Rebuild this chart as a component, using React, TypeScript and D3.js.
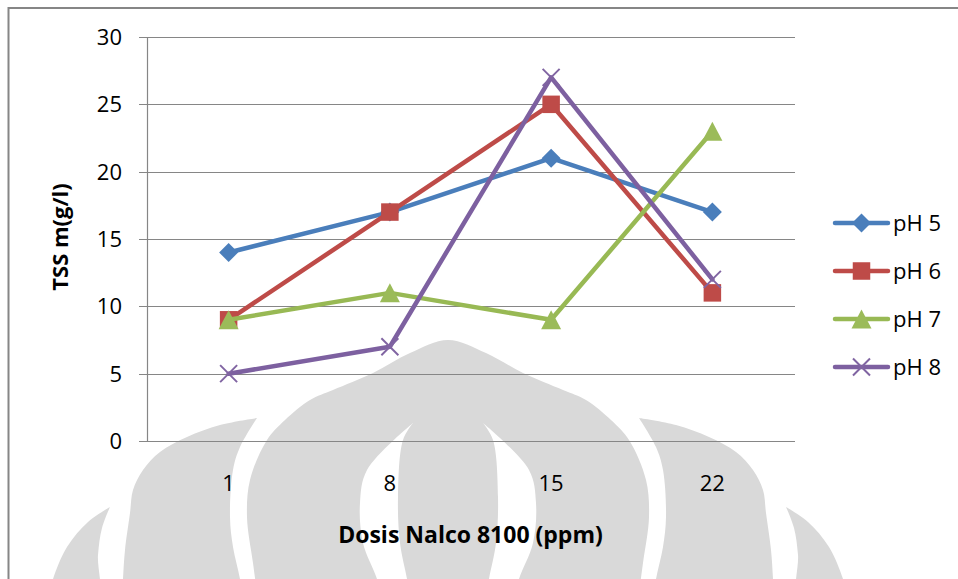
import React from 'react';
import * as d3 from 'd3';

// TSS readings per Nalco 8100 dose, one array per pH level
const doses = ['1', '8', '15', '22'];
const ph5 = [14, 17, 21, 17];
const ph6 = [9, 17, 25, 11];
const ph7 = [9, 11, 9, 23];
const ph8 = [5, 7, 27, 12];
const seriesNames = ['pH 5', 'pH 6', 'pH 7', 'pH 8'];
const yTicks = [0, 5, 10, 15, 20, 25, 30];
const xTitle = 'Dosis Nalco 8100 (ppm)';
const yTitle = 'TSS m(g/l)';

const W = 958;
const H = 579;
const FONT = "'Open Sans', 'DejaVu Sans', sans-serif";
const GRID = '#868686';

const plot = { left: 148, right: 793, top: 37, bottom: 441 };

type MarkerKind = 'diamond' | 'square' | 'triangle' | 'x';
const styles: { line: string; fill: string; marker: MarkerKind }[] = [
  { line: '#4A7EBB', fill: '#4A7EBB', marker: 'diamond' },
  { line: '#BE4B48', fill: '#BE4B48', marker: 'square' },
  { line: '#98B954', fill: '#9BBB59', marker: 'triangle' },
  { line: '#7D60A0', fill: '#8064A2', marker: 'x' },
];

function Marker({ kind, x, y, color }: { kind: MarkerKind; x: number; y: number; color: string }) {
  if (kind === 'diamond') {
    const r = 9.5;
    return <path d={`M${x},${y - r}L${x + r},${y}L${x},${y + r}L${x - r},${y}Z`} fill={color} />;
  }
  if (kind === 'square') {
    const s = 17.5;
    return <rect x={x - s / 2} y={y - s / 2} width={s} height={s} fill={color} />;
  }
  if (kind === 'triangle') {
    const hw = 10;
    const hh = 9.5;
    return <path d={`M${x},${y - hh}L${x + hw},${y + hh}L${x - hw},${y + hh}Z`} fill={color} />;
  }
  const r = 8.5;
  return (
    <g stroke={color} strokeWidth={2}>
      <line x1={x - r} y1={y - r} x2={x + r} y2={y + r} />
      <line x1={x - r} y1={y + r} x2={x + r} y2={y - r} />
    </g>
  );
}

// Background emblem, symmetric about a vertical axis
const AXIS = 896;
const mirror = (pts: [number, number][]) => pts.map(([x, y]) => [AXIS - x, y] as [number, number]);
const smooth = d3.line<[number, number]>().curve(d3.curveCatmullRom.alpha(0.5));
const closed = (pts: [number, number][]) => (smooth(pts) || '') + 'Z';

const domeLeft: [number, number][] = [
  [258, 600], [253, 563], [247, 517], [250, 480], [267, 440], [285, 420],
  [310, 400], [333, 390], [373, 373], [410, 353],
];
const domePts: [number, number][] = [...domeLeft, [448, 340], ...mirror(domeLeft).reverse()];
const crescent: [number, number][] = [
  [413, 423], [367, 470], [360, 503], [363, 543], [377, 579], [382, 600],
  [410, 600], [407, 579], [400, 543], [398, 497], [403, 440], [413, 423],
];
const petal: [number, number][] = [
  [257, 418], [240, 447], [233, 470], [230, 517], [233, 547], [240, 579], [243, 600],
  [122, 600], [123, 579], [125, 550], [130, 513], [133, 490], [143, 470], [160, 452],
  [187, 437], [220, 425], [257, 418],
];
const sliver: [number, number][] = [
  [110, 507], [102, 528], [98, 555], [97, 600], [48, 600], [53, 579], [67, 547], [88, 522], [110, 507],
];

function Emblem() {
  const gray = '#d9d9d9';
  return (
    <g>
      <path d={closed(domePts)} fill={gray} />
      <path d={closed(crescent)} fill="#fff" />
      <path d={closed(mirror(crescent))} fill="#fff" />
      <path d={closed(petal)} fill={gray} />
      <path d={closed(mirror(petal))} fill={gray} />
      <path d={closed(sliver)} fill={gray} />
      <path d={closed(mirror(sliver))} fill={gray} />
    </g>
  );
}

export default function App() {
  const allSeries = [ph5, ph6, ph7, ph8];
  const x = d3.scalePoint<string>().domain(doses).range([plot.left, plot.right]).padding(0.5);
  const y = d3.scaleLinear().domain([0, 30]).range([plot.bottom, plot.top]);
  const line = d3
    .line<number>()
    .x((_, i) => x(doses[i]) as number)
    .y((d) => y(d));

  const legendX0 = 835;
  const legendX1 = 888;
  const legendY = d3.scalePoint<string>().domain(seriesNames).range([223, 367]);

  return (
    <svg
      width={W}
      height={H}
      style={{ position: 'absolute', left: 0, top: 0, display: 'block' }}
      fontFamily={FONT}
    >
      <rect x={0} y={0} width={W} height={H} fill="#fff" />
      <Emblem />
      <rect x={8.5} y={8} width={W + 20} height={H + 20} fill="none" stroke={GRID} strokeWidth={2} />

      {/* gridlines and value axis */}
      {yTicks.map((t) => (
        <g key={t}>
          <line x1={139} x2={plot.right + 2} y1={Math.round(y(t)) + 0.5} y2={Math.round(y(t)) + 0.5} stroke={GRID} strokeWidth={1.2} />
          <text x={122} y={y(t)} dy="0.357em" textAnchor="end" fontSize={22} fill="#000">
            {t}
          </text>
        </g>
      ))}
      <line x1={plot.left - 0.5} x2={plot.left - 0.5} y1={y(30)} y2={y(0)} stroke={GRID} strokeWidth={1.2} />

      {/* category labels */}
      {doses.map((d) => (
        <text key={d} x={x(d)} y={491} textAnchor="middle" fontSize={22} fill="#000">
          {d}
        </text>
      ))}

      {/* series */}
      {allSeries.map((vals, si) => (
        <g key={seriesNames[si]}>
          <path d={line(vals) || ''} fill="none" stroke={styles[si].line} strokeWidth={4.5} strokeLinejoin="round" strokeLinecap="round" />
          {vals.map((v, i) => (
            <Marker key={i} kind={styles[si].marker} x={x(doses[i]) as number} y={y(v)} color={styles[si].fill} />
          ))}
        </g>
      ))}

      {/* axis titles */}
      <text x={(plot.left + plot.right) / 2} y={543} textAnchor="middle" fontSize={23} fontWeight="bold" fill="#000">
        {xTitle}
      </text>
      <text transform="translate(68,237) rotate(-90)" textAnchor="middle" fontSize={22} fontWeight="bold" fill="#000">
        {yTitle}
      </text>

      {/* legend */}
      {seriesNames.map((name, si) => {
        const ly = legendY(name) as number;
        return (
          <g key={name}>
            <line x1={legendX0} x2={legendX1} y1={ly} y2={ly} stroke={styles[si].line} strokeWidth={4.5} strokeLinecap="round" />
            <Marker kind={styles[si].marker} x={(legendX0 + legendX1) / 2} y={ly} color={styles[si].fill} />
            <text x={893} y={ly} dy="0.357em" fontSize={22} fill="#000">
              {name}
            </text>
          </g>
        );
      })}
    </svg>
  );
}
